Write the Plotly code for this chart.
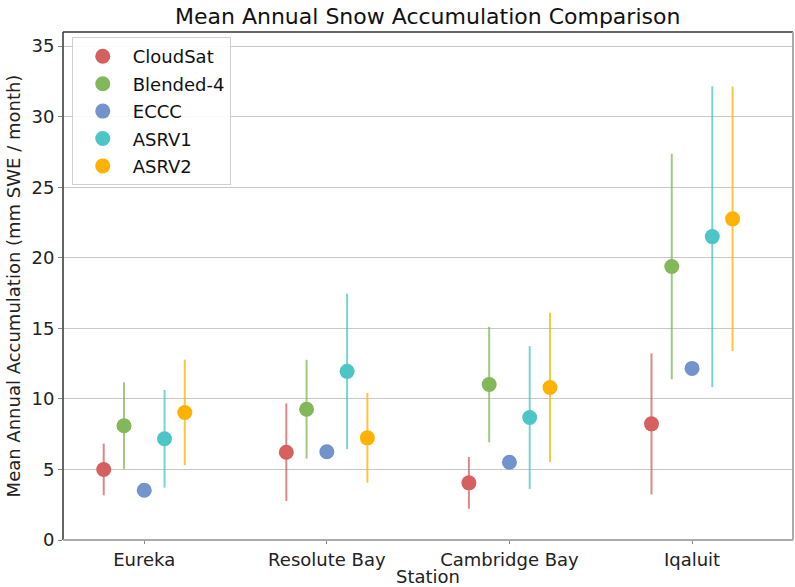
import plotly.graph_objects as go

stations = ["Eureka", "Resolute Bay", "Cambridge Bay", "Iqaluit"]
series = ["CloudSat", "Blended-4", "ECCC", "ASRV1", "ASRV2"]

cloudsat = [5.0, 6.22, 4.05, 8.23]
cloudsat_err = [1.83, 3.46, 1.83, 5.0]
blended4 = [8.1, 9.27, 11.02, 19.38]
blended4_err = [3.08, 3.5, 4.09, 7.99]
eccc = [3.53, 6.25, 5.51, 12.16]
eccc_err = [0, 0, 0, 0]
asrv1 = [7.17, 11.95, 8.68, 21.5]
asrv1_err = [3.46, 5.51, 5.06, 10.66]
asrv2 = [9.04, 7.24, 10.81, 22.76]
asrv2_err = [3.74, 3.18, 5.29, 9.37]

values = [cloudsat, blended4, eccc, asrv1, asrv2]
errors = [cloudsat_err, blended4_err, eccc_err, asrv1_err, asrv2_err]
colors = ["#d65f5f", "#82b75a", "#7293cb", "#4bc5c5", "#feb200"]
err_colors = ["rgba(214,95,95,0.75)", "rgba(130,183,90,0.75)", "rgba(114,147,203,0.75)",
              "rgba(75,197,197,0.75)", "rgba(254,178,0,0.75)"]
offsets = [-0.222, -0.111, 0.0, 0.111, 0.222]

fig = go.Figure()
for i, name in enumerate(series):
    xs = [j + offsets[i] for j in range(len(stations))]
    fig.add_trace(go.Scatter(
        x=xs, y=values[i], mode="markers", name=name,
        legendgroup=name,
        marker=dict(color=colors[i], size=15, line=dict(width=0)),
        error_y=dict(type="data", array=errors[i], visible=any(e > 0 for e in errors[i]),
                     color=err_colors[i], thickness=2, width=0),
    ))

font = "DejaVu Sans"
fig.update_layout(
    width=795, height=587,
    margin=dict(l=63, r=2, t=32, b=47),
    paper_bgcolor="white", plot_bgcolor="white",
    font=dict(family=font, size=18, color="#222"),
    title=dict(text="Mean Annual Snow Accumulation Comparison", x=0.538, xanchor="center",
               y=0.985, yanchor="top", font=dict(size=22, color="#111")),
    xaxis=dict(range=[-0.445, 3.553], tickmode="array", tickvals=list(range(len(stations))),
               ticktext=stations, showgrid=False, zeroline=False,
               ticks="outside", ticklen=3, tickcolor="#888",
               title=dict(text="Station", standoff=0, font=dict(size=18)),
               tickfont=dict(size=18), showline=False),
    yaxis=dict(range=[0, 36], tickvals=[0, 5, 10, 15, 20, 25, 30, 35],
               showgrid=True, gridcolor="#c8c8c8", gridwidth=1, zeroline=False,
               ticks="outside", ticklen=4, tickcolor="#888",
               title=dict(text="Mean Annual Accumulation (mm SWE / month)", standoff=6,
                          font=dict(size=18)),
               tickfont=dict(size=18), showline=False),
    legend=dict(x=0.012, y=0.99, xanchor="left", yanchor="top",
                bgcolor="rgba(255,255,255,0.9)", bordercolor="#d0d0d0", borderwidth=1,
                font=dict(size=18, color="#111"), tracegroupgap=1, itemwidth=50),
    showlegend=True,
)
# axes frame
fig.add_shape(type="line", xref="paper", yref="paper", x0=0, x1=1, y0=1, y1=1,
              line=dict(color="#333", width=1.5))
fig.add_shape(type="line", xref="paper", yref="paper", x0=0, x1=0, y0=0, y1=1,
              line=dict(color="#333", width=1.5))
fig.add_shape(type="line", xref="paper", yref="paper", x0=1, x1=1, y0=0, y1=1,
              line=dict(color="#aaa", width=2))
fig.add_shape(type="line", xref="paper", yref="paper", x0=0, x1=1, y0=0, y1=0,
              line=dict(color="#aaa", width=2))

fig.write_html("out.html")
